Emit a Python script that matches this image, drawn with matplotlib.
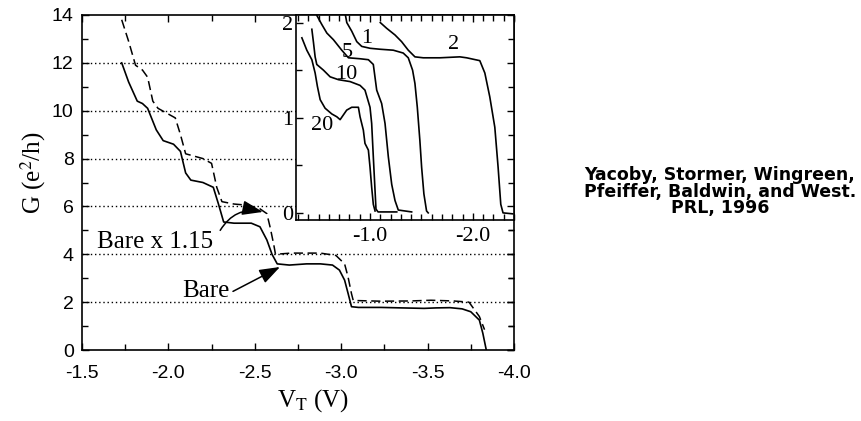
import matplotlib
matplotlib.use("Agg")
import matplotlib.pyplot as plt
from matplotlib.ticker import MultipleLocator, FormatStrFormatter

plt.rcParams['axes.unicode_minus'] = False
plt.rcParams['mathtext.fontset'] = 'stix'

# main panel: "Bare" (solid) and "Bare x 1.15" (dashed), G in e^2/h vs V_T
bare_v = [-1.73, -1.77, -1.82, -1.85, -1.88, -1.93, -1.97, -2.03, -2.07, -2.10,
          -2.13, -2.20, -2.26, -2.29, -2.32, -2.38, -2.48, -2.53, -2.57, -2.60,
          -2.63, -2.70, -2.80, -2.88, -2.95, -2.99, -3.02, -3.04, -3.06, -3.10,
          -3.23, -3.35, -3.48, -3.55, -3.63, -3.70, -3.75, -3.80, -3.82, -3.84]
bare_g = [12.0, 11.2, 10.4, 10.3, 10.1, 9.2, 8.75, 8.6, 8.3, 7.4,
          7.1, 7.0, 6.8, 6.1, 5.35, 5.3, 5.3, 5.15, 4.6, 4.0,
          3.6, 3.55, 3.6, 3.6, 3.55, 3.34, 2.92, 2.37, 1.81, 1.78,
          1.78, 1.76, 1.74, 1.76, 1.77, 1.72, 1.6, 1.25, 0.7, 0.0]

scaled_v = [-1.73, -1.77, -1.81, -1.85, -1.88, -1.91, -1.94, -1.99, -2.04, -2.07,
            -2.10, -2.15, -2.20, -2.25, -2.28, -2.31, -2.38, -2.46, -2.53, -2.57,
            -2.59, -2.61, -2.62, -2.71, -2.80, -2.88, -2.97, -3.02, -3.04, -3.06,
            -3.07, -3.23, -3.40, -3.52, -3.65, -3.74, -3.80, -3.83]
scaled_g = [13.8, 12.9, 11.9, 11.7, 11.4, 10.4, 10.1, 9.9, 9.7, 9.0,
            8.2, 8.1, 8.0, 7.8, 6.8, 6.2, 6.1, 6.05, 5.9, 5.7,
            5.1, 4.4, 4.0, 4.05, 4.05, 4.05, 3.95, 3.6, 3.05, 2.35,
            2.07, 2.04, 2.05, 2.08, 2.05, 2.0, 1.4, 0.85]

grid_levels = [2, 4, 6, 8, 10, 12]

# inset: curves labelled 1, 2, 5, 10, 20
c1_v = [-0.757, -0.774, -0.822, -0.871, -0.919, -1.0, -1.097, -1.226, -1.323, -1.372,
        -1.414, -1.437, -1.46, -1.485, -1.502, -1.524, -1.55, -1.566]
c1_g = [2.1, 2.0, 1.91, 1.80, 1.75, 1.73, 1.72, 1.71, 1.68, 1.63,
        1.50, 1.36, 1.11, 0.76, 0.48, 0.20, 0.02, 0.0]
c2_v = [-1.10, -1.162, -1.243, -1.307, -1.372, -1.437, -1.518, -1.68, -1.874, -1.94,
        -2.068, -2.117, -2.165, -2.214, -2.246, -2.272, -2.294, -2.388]
c2_g = [2.0, 1.94, 1.87, 1.80, 1.71, 1.64, 1.63, 1.63, 1.64, 1.63,
        1.60, 1.47, 1.22, 0.90, 0.48, 0.09, 0.0, -0.01]
c5_v = [-0.47, -0.531, -0.58, -0.644, -0.725, -0.79, -0.903, -0.984, -1.032, -1.065,
        -1.113, -1.146, -1.178, -1.211, -1.243, -1.275, -1.405]
c5_g = [2.1, 1.98, 1.89, 1.82, 1.71, 1.63, 1.62, 1.61, 1.56, 1.29,
        1.15, 0.94, 0.59, 0.30, 0.13, 0.03, 0.01]
c10_v = [-0.434, -0.45, -0.466, -0.482, -0.547, -0.612, -0.693, -0.806, -0.903, -0.951,
         -1.0, -1.016, -1.032, -1.049, -1.058, -1.078, -1.26]
c10_g = [1.93, 1.79, 1.64, 1.56, 1.50, 1.43, 1.40, 1.38, 1.34, 1.29,
         1.11, 0.94, 0.59, 0.23, 0.04, 0.01, 0.01]
c20_v = [-0.337, -0.385, -0.434, -0.466, -0.488, -0.515, -0.563, -0.628, -0.677, -0.709,
         -0.741, -0.773, -0.822, -0.887, -0.903, -0.935, -0.951, -0.984, -1.0, -1.016,
         -1.032, -1.049]
c20_g = [1.84, 1.71, 1.61, 1.47, 1.33, 1.19, 1.10, 1.04, 1.01, 0.98,
         1.03, 1.08, 1.11, 1.11, 1.01, 0.87, 0.73, 0.66, 0.48, 0.27,
         0.09, 0.02]
inset_labels = ["1", "2", "5", "10", "20"]
inset_label_v = [-0.97, -1.81, -0.777, -0.767, -0.534]
inset_label_g = [1.83, 1.77, 1.69, 1.45, 0.92]

serif = "Liberation Serif"
sans = "Liberation Sans"

fig = plt.figure(figsize=(8.61, 4.21), dpi=100)
ax = fig.add_axes([0.0952, 0.1686, 0.5017, 0.7958])

for lev in grid_levels:
    ax.axhline(lev, color='black', lw=1.0, ls=(0, (1, 2)), zorder=0)

ax.plot(bare_v, bare_g, color='black', lw=1.2)
ax.plot(scaled_v, scaled_g, color='black', lw=1.1, dashes=(6, 3))

ax.set_xlim(-1.5, -4.0)
ax.set_ylim(0, 14)
ax.xaxis.set_major_locator(MultipleLocator(0.5))
ax.xaxis.set_minor_locator(MultipleLocator(0.25))
ax.xaxis.set_major_formatter(FormatStrFormatter('%.1f'))
ax.yaxis.set_major_locator(MultipleLocator(2))
ax.yaxis.set_minor_locator(MultipleLocator(1))
ax.tick_params(which='both', direction='in', top=True, right=True, width=1.0)
ax.tick_params(which='major', length=5)
ax.tick_params(which='minor', length=4)
ax.tick_params(axis='x', pad=11, labelsize=14)
ax.tick_params(axis='y', pad=6, labelsize=14)
for lab in ax.get_xticklabels() + ax.get_yticklabels():
    lab.set_fontfamily(sans)
for sp in ax.spines.values():
    sp.set_linewidth(1.2)

ax.set_ylabel(r'G (e$^2$/h)', fontfamily=serif, fontsize=18)
ax.yaxis.set_label_coords(-0.078, 0.53)
ax.set_xlabel(r'V$_\mathrm{T}$ (V)', fontfamily=serif, fontsize=18)
ax.xaxis.set_label_coords(0.535, -0.112)

arrow = dict(arrowstyle='-|>,head_length=0.9,head_width=0.32', color='black',
             lw=1.1, shrinkA=0, shrinkB=0, mutation_scale=14)
ax.text(-1.587, 4.26, 'Bare x 1.15', fontfamily=serif, fontsize=18,
        ha='left', va='baseline')
ax.annotate('', xy=(-2.547, 5.77), xytext=(-2.30, 5.0),
            arrowprops=dict(arrow, connectionstyle='arc3,rad=-0.35'))
ax.text(-2.079, 2.2, 'Bare', fontfamily=serif, fontsize=18,
        ha='left', va='baseline')
ax.annotate('', xy=(-2.646, 3.47), xytext=(-2.374, 2.45), arrowprops=arrow)

# inset
ins = fig.add_axes([0.3438, 0.4774, 0.2531, 0.4870])
ins.set_zorder(2)
for v, g in [(c1_v, c1_g), (c2_v, c2_g), (c5_v, c5_g), (c10_v, c10_g), (c20_v, c20_g)]:
    ins.plot(v, g, color='black', lw=1.2)
for lab, v, g in zip(inset_labels, inset_label_v, inset_label_g):
    ins.text(v, g, lab, fontfamily=serif, fontsize=16, ha='center', va='center')
ins.set_xlim(-0.28, -2.40)
ins.set_ylim(-0.075, 2.08)
ins.xaxis.set_major_locator(MultipleLocator(1.0))
ins.xaxis.set_minor_locator(MultipleLocator(0.1))
ins.xaxis.set_major_formatter(FormatStrFormatter('%.1f'))
ins.yaxis.set_major_locator(MultipleLocator(1))
ins.yaxis.set_minor_locator(MultipleLocator(0.5))
ins.tick_params(which='both', direction='in', top=True, right=False, width=1.0)
ins.tick_params(which='major', length=5)
ins.tick_params(which='minor', length=4)
ins.tick_params(axis='x', pad=5, labelsize=16)
ins.tick_params(axis='y', pad=2, labelsize=16)
for lab in ins.get_xticklabels() + ins.get_yticklabels():
    lab.set_fontfamily(serif)
for sp in ins.spines.values():
    sp.set_linewidth(1.2)

# right-hand ticks of the main panel stay visible over the inset
axr = fig.add_axes(ax.get_position(), sharey=ax, frameon=False)
axr.set_zorder(3)
axr.patch.set_visible(False)
axr.tick_params(axis='x', which='both', bottom=False, top=False, labelbottom=False)
axr.tick_params(axis='y', which='both', direction='in', left=False, right=True,
                labelleft=False, labelright=False, width=1.0)
axr.tick_params(axis='y', which='major', length=5)
axr.tick_params(axis='y', which='minor', length=4)

fig.text(0.836, 0.545, "Yacoby, Stormer, Wingreen,\nPfeiffer, Baldwin, and West.\nPRL, 1996",
         ha='center', va='center', fontfamily='DejaVu Sans', fontsize=12.5,
         fontweight='bold', linespacing=0.9)

fig.savefig('out.png', dpi=100)
